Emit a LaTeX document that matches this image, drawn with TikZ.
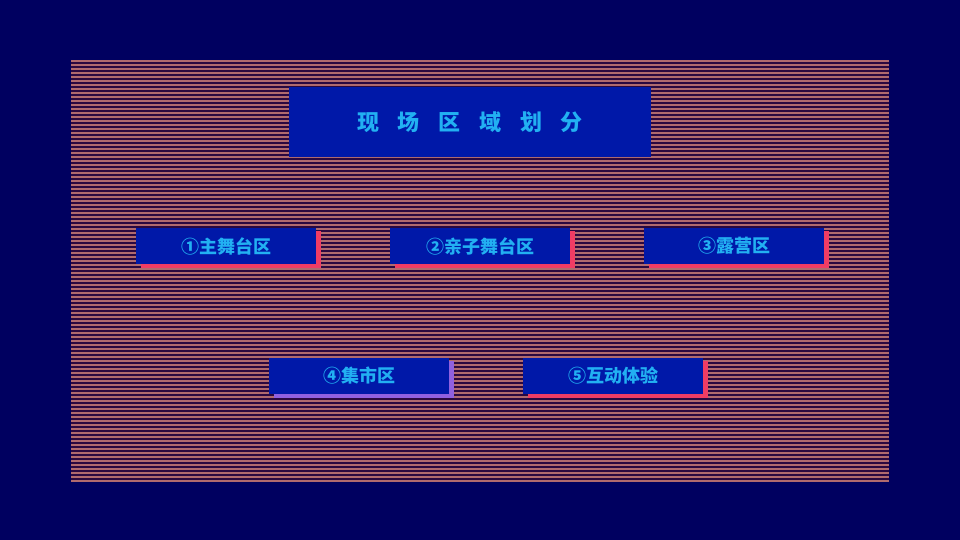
\documentclass[tikz,border=0pt]{standalone}
\usepackage{fontspec}
\newfontfamily\cjk{Noto Sans CJK SC}
\definecolor{pagebg}{HTML}{000060}
\definecolor{stripebg}{HTML}{2A0840}
\definecolor{stripeln}{HTML}{B06A6E}
\definecolor{boxfill}{HTML}{0018A8}
\definecolor{txt}{HTML}{22B0F2}
\definecolor{accred}{HTML}{F03C64}
\definecolor{accpur}{HTML}{9060E0}
\tikzset{
  zone/.style={fill=boxfill, minimum width=180pt, minimum height=36pt, inner sep=0pt,
    font=\cjk\bfseries\fontsize{18}{18}\selectfont, text=txt},
}
\begin{document}
\begin{tikzpicture}[x=1pt,y=-1pt]
\fill[pagebg] (0,0) rectangle (960,540);
\useasboundingbox (0,0) rectangle (960,540);
\fill[stripebg] (71,60) rectangle (889,482);
\foreach \y in {61,65,...,481} \draw[stripeln, line width=1.1pt] (71,\y) -- (889,\y);
% title
\node[fill=boxfill, minimum width=362pt, minimum height=70pt, inner sep=0pt,
  font=\cjk\bfseries\fontsize{22}{22}\selectfont, text=txt] (title) at (470,122)
  {现\hspace{0.85em}场\hspace{0.85em}区\hspace{0.85em}域\hspace{0.85em}划\hspace{0.85em}分};
% zones: shadows then boxes
\foreach \nm/\cx/\cy/\col/\lab in {z1/226/246/accred/①主舞台区, z2/480/246/accred/②亲子舞台区, z3/734/246/accred/③露营区, z4/359/376/accpur/④集市区, z5/613/376/accred/⑤互动体验}{
  \fill[\col] (\cx-85,\cy-15) rectangle (\cx+95,\cy+22);
  \node[zone] (\nm) at (\cx,\cy) {\lab};
}
\end{tikzpicture}
\end{document}
